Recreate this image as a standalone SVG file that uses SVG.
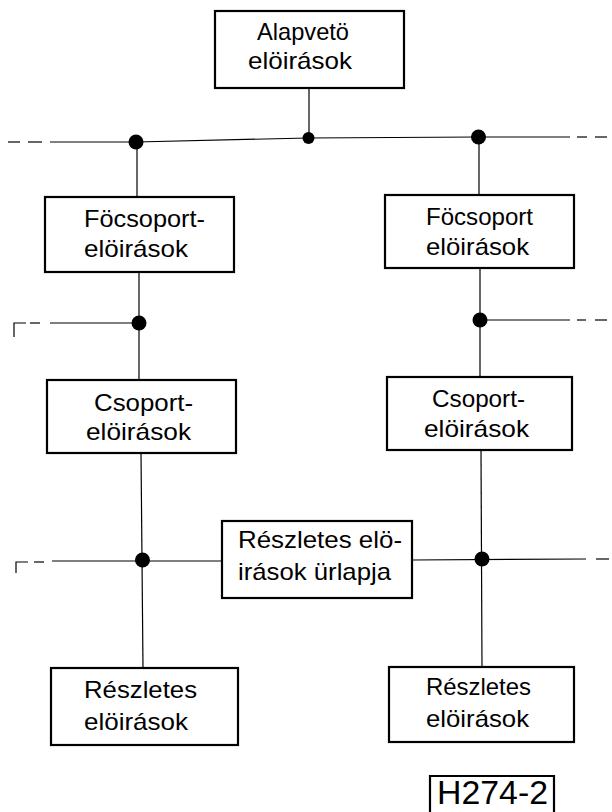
<svg xmlns="http://www.w3.org/2000/svg" width="612" height="812" viewBox="0 0 612 812">
<style>
.box{fill:#fff;stroke:#000;stroke-width:2.2}
.ln{fill:none;stroke:#000;stroke-width:1.2}
.dot{fill:#000}
text{font-family:"Liberation Sans","DejaVu Sans",sans-serif;font-size:24px;fill:#000}
</style>
<rect width="612" height="812" fill="#fff"/>
<g id="connectors">
  <polyline class="ln" points="50,142 136,142 308,138 478,137 570,137"/>
  <line class="ln" x1="8" y1="142" x2="20" y2="142"/>
  <line class="ln" x1="28" y1="142" x2="42" y2="142"/>
  <line class="ln" x1="577" y1="137" x2="587" y2="137"/>
  <line class="ln" x1="595" y1="137" x2="607" y2="137"/>
  <line class="ln" x1="309" y1="88" x2="309" y2="138"/>
  <line class="ln" x1="137" y1="142" x2="137" y2="197"/>
  <line class="ln" x1="479" y1="137" x2="479" y2="195"/>
  <line class="ln" x1="139" y1="272" x2="139" y2="380"/>
  <line class="ln" x1="480" y1="268" x2="480" y2="377"/>
  <polyline class="ln" points="14,337 14,323 26,323"/>
  <line class="ln" x1="30" y1="323" x2="40" y2="323"/>
  <line class="ln" x1="50" y1="323" x2="139" y2="323"/>
  <line class="ln" x1="480" y1="320" x2="570" y2="320"/>
  <line class="ln" x1="577" y1="320" x2="586" y2="320"/>
  <line class="ln" x1="595" y1="320" x2="607" y2="320"/>
  <line class="ln" x1="141" y1="453" x2="143" y2="668"/>
  <line class="ln" x1="481" y1="450" x2="482" y2="667"/>
  <polyline class="ln" points="16,573 16,562 28,562"/>
  <line class="ln" x1="34" y1="562" x2="44" y2="562"/>
  <line class="ln" x1="52" y1="561" x2="222" y2="561"/>
  <line class="ln" x1="412" y1="560" x2="586" y2="559"/>
  <line class="ln" x1="596" y1="559" x2="609" y2="559"/>
  <circle class="dot" cx="136" cy="142" r="7.5"/>
  <circle class="dot" cx="308.5" cy="138" r="6"/>
  <circle class="dot" cx="478.5" cy="137" r="7.5"/>
  <circle class="dot" cx="139" cy="323" r="7.5"/>
  <circle class="dot" cx="480" cy="320" r="7.5"/>
  <circle class="dot" cx="142.5" cy="560" r="7.5"/>
  <circle class="dot" cx="482" cy="559" r="7.5"/>
</g>
<g id="alapveto">
  <rect class="box" x="215" y="11" width="189" height="77"/>
  <text x="257" y="40" textLength="92" lengthAdjust="spacingAndGlyphs">Alapvetö</text>
  <text x="248" y="69" textLength="104" lengthAdjust="spacingAndGlyphs">elöirások</text>
</g>
<g id="focsoport-left">
  <rect class="box" x="45" y="197" width="189" height="75"/>
  <text x="84" y="227" textLength="121" lengthAdjust="spacingAndGlyphs">Föcsoport-</text>
  <text x="84" y="257" textLength="104" lengthAdjust="spacingAndGlyphs">elöirások</text>
</g>
<g id="focsoport-right">
  <rect class="box" x="385" y="195" width="189" height="73"/>
  <text x="426" y="225" textLength="107" lengthAdjust="spacingAndGlyphs">Föcsoport</text>
  <text x="426" y="255" textLength="103" lengthAdjust="spacingAndGlyphs">elöirások</text>
</g>
<g id="csoport-left">
  <rect class="box" x="47" y="380" width="189" height="73"/>
  <text x="94" y="411" textLength="99" lengthAdjust="spacingAndGlyphs">Csoport-</text>
  <text x="86" y="440" textLength="105" lengthAdjust="spacingAndGlyphs">elöirások</text>
</g>
<g id="csoport-right">
  <rect class="box" x="387" y="377" width="185" height="73"/>
  <text x="432" y="407" textLength="93" lengthAdjust="spacingAndGlyphs">Csoport-</text>
  <text x="424" y="437" textLength="105" lengthAdjust="spacingAndGlyphs">elöirások</text>
</g>
<g id="urlap">
  <rect class="box" x="222" y="521" width="190" height="77"/>
  <text x="238" y="548" textLength="164" lengthAdjust="spacingAndGlyphs">Részletes elö-</text>
  <text x="238" y="580" textLength="153" lengthAdjust="spacingAndGlyphs">irások ürlapja</text>
</g>
<g id="reszletes-left">
  <rect class="box" x="51" y="668" width="187" height="77"/>
  <text x="84" y="698" textLength="113" lengthAdjust="spacingAndGlyphs">Részletes</text>
  <text x="84" y="730" textLength="104" lengthAdjust="spacingAndGlyphs">elöirások</text>
</g>
<g id="reszletes-right">
  <rect class="box" x="389" y="667" width="185" height="75"/>
  <text x="426" y="695" textLength="105" lengthAdjust="spacingAndGlyphs">Részletes</text>
  <text x="426" y="727" textLength="103" lengthAdjust="spacingAndGlyphs">elöirások</text>
</g>
<g id="label">
  <polyline class="ln" style="stroke-width:2.2" points="430,812 430,776 554,776 554,812"/>
  <text x="437" y="804" textLength="111" lengthAdjust="spacingAndGlyphs" style="font-size:33px">H274-2</text>
</g>
</svg>
